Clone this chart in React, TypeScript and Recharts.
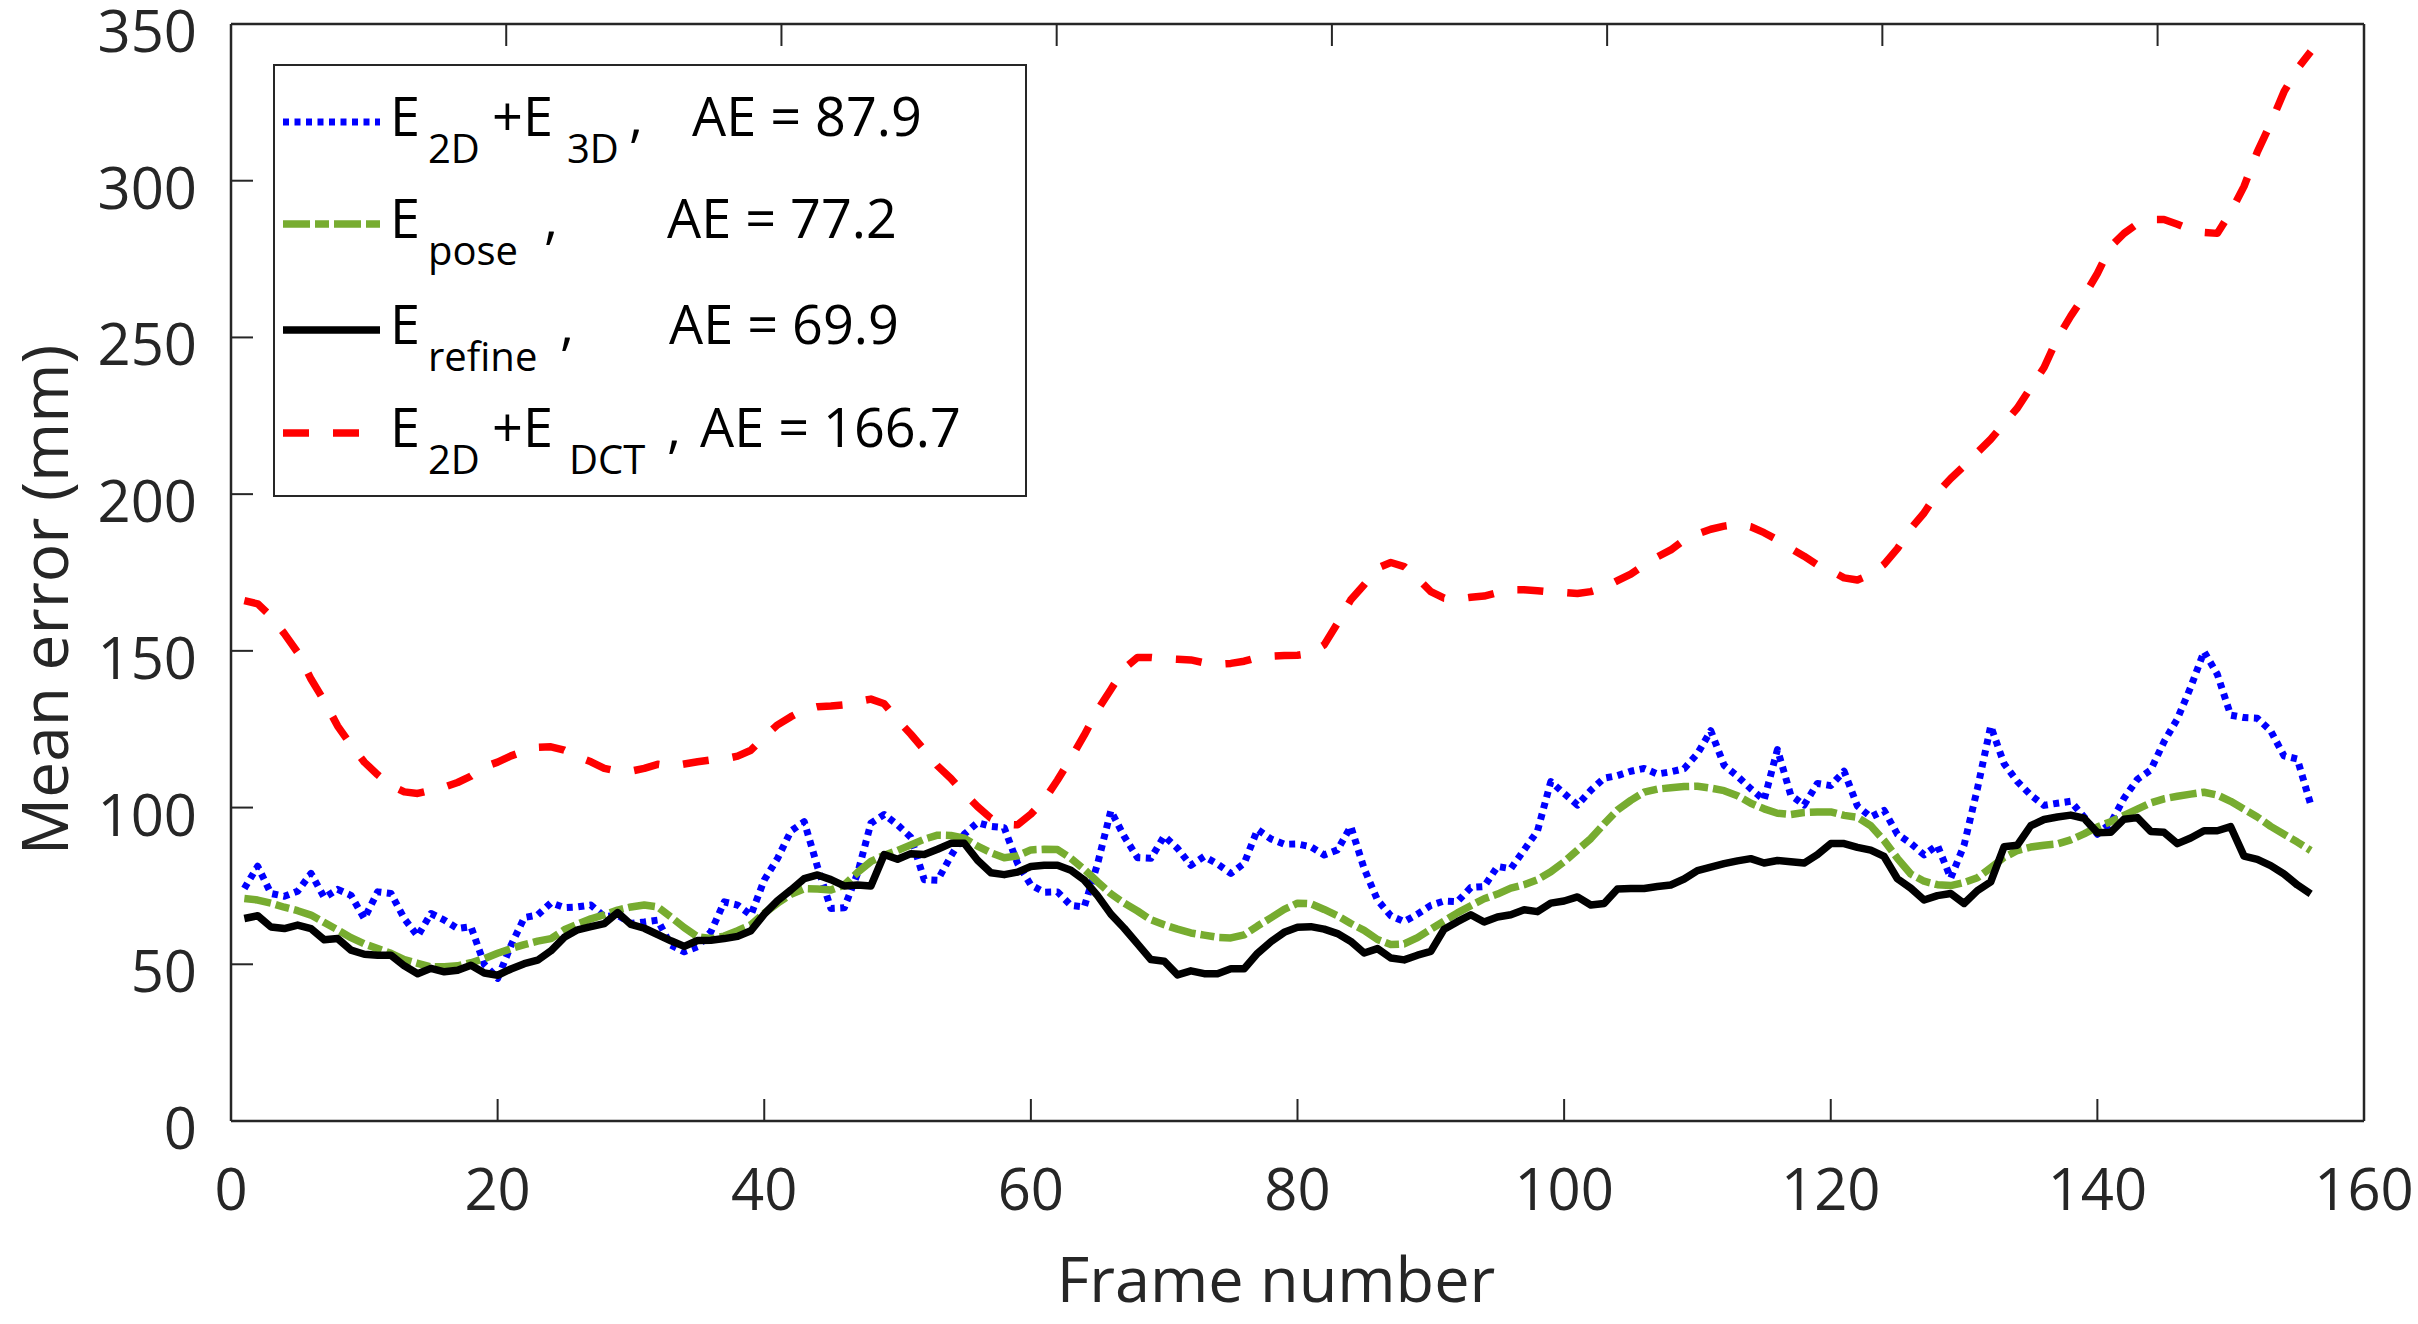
import React from 'react';
import { LineChart, Line, XAxis, YAxis, Legend, Label } from 'recharts';

// mean error per frame (mm), frames 1..156
const err2d3d = [
  74.2, 81.3, 72.6, 71.7, 73.3, 79, 71.3, 73.9, 72, 64.6, 73.1, 72.6, 64.6, 59, 66.2, 64.1, 61.4, 62, 50, 45.5,
  56, 64.9, 65.7, 69.6, 68.1, 68.3, 68.9, 65.2, 65.7, 63, 63.5, 64.1, 56.1, 54, 55.6, 60.4, 69.9, 68.9, 65.7, 76.9,
  83.8, 92.5, 95.5, 81, 67.8, 68, 79, 95, 97.8, 94.5, 90.5, 77, 76.8, 84.5, 91.5, 95.2, 94, 93.6, 82.2, 75.3,
  73, 73.1, 68.8, 68.3, 82, 99, 90.8, 84, 83.8, 90.9, 87, 81.6, 84.4, 82, 79, 82.2, 93, 90, 88.3, 88.4,
  87.5, 84.9, 86.5, 94, 80.5, 70.5, 65.5, 63.6, 66, 68.8, 70.2, 70, 74.5, 74.8, 81.2, 80.5, 86.5, 92.5, 108.3, 104.5,
  100.8, 105.5, 109.4, 110.2, 111.6, 112.5, 110.7, 111.4, 112.4, 117.2, 124.5, 113.5, 110, 106, 102.4, 118.5, 104, 100.8, 107.7, 107,
  111.6, 100.5, 97, 99.1, 91.5, 88.6, 84.9, 88, 77.5, 88, 106, 126, 114, 108.3, 104, 100.7, 101.4, 102, 97, 91.5,
  95, 103, 109, 112, 121, 128.3, 138.4, 149.8, 142.5, 129.5, 128.7, 128.5, 124.5, 116.5, 115.5, 101,
];

const errPose = [
  71, 70.5, 69.5, 68.2, 67.1, 65.7, 63.3, 61, 58.5, 56.5, 55, 53.5, 51.5, 50.3, 49.2, 49.2, 49.5, 50.5, 51.8, 53.5,
  55, 56.3, 57.4, 58.2, 61, 62.8, 64.5, 65.8, 67.3, 68.3, 68.9, 68.3, 65.1, 61.7, 58.8, 58.2, 59, 60.7, 62.6, 66.3,
  69.5, 72.3, 74.1, 74, 73.7, 75.3, 79.3, 82.8, 84.8, 86.3, 88.1, 89.9, 91.2, 91.1, 90.2, 87.7, 85.6, 84, 84.6, 86.5,
  86.7, 86.6, 83.8, 80.3, 76.3, 72.5, 69.5, 67, 64.2, 62.6, 61.2, 60, 59.3, 58.6, 58.4, 59.4, 62.2, 64.8, 67.5, 69.5,
  69.3, 67.5, 65.5, 63, 60.8, 57.9, 56.3, 56.5, 58.5, 61.2, 63.8, 66.4, 68.7, 70.9, 72.4, 74.3, 75.4, 77, 79.5, 82.7,
  86.4, 90.1, 94.8, 99.2, 102.3, 104.9, 105.9, 106.3, 106.7, 106.8, 106.2, 105.4, 103.8, 101.4, 99.6, 98.2, 97.8, 98.4, 98.6, 98.6,
  97.5, 96.9, 94.2, 89.5, 83.8, 78.8, 76.5, 75.4, 75.1, 76.1, 77.6, 80.8, 84.1, 86.3, 87.4, 88, 88.4, 89.7, 91.6, 93.8,
  95.5, 97.5, 99.5, 101.5, 102.8, 103.6, 104.3, 104.9, 104, 102, 99.5, 97, 94, 91.5, 89, 86.3,
];

const errRefine = [
  64.6, 65.5, 61.9, 61.4, 62.5, 61.4, 57.8, 58.2, 54.5, 53.2, 52.9, 52.9, 49.5, 47, 48.7, 47.6, 48.1, 49.7, 47.2, 46.5,
  48.5, 50.2, 51.3, 54.3, 58.6, 61, 62, 63, 66.5, 62.7, 61.5, 59.5, 57.5, 55.7, 57.6, 57.7, 58.2, 58.9, 60.7, 66,
  70.3, 73.7, 77.3, 78.5, 77, 75, 75.3, 75, 85, 83.5, 85.3, 85, 86.7, 88.6, 88.6, 83.2, 79.2, 78.6, 79.4, 81.2,
  81.6, 81.6, 80, 76.9, 71.9, 66, 61.5, 56.5, 51.5, 51, 46.6, 47.9, 47, 47, 48.6, 48.6, 53.5, 57.2, 60.2, 61.8,
  62, 61.2, 59.8, 57.3, 53.6, 55, 52, 51.4, 52.9, 54.1, 61.2, 63.6, 65.8, 63.5, 65.1, 65.8, 67.4, 66.8, 69.5, 70.2,
  71.5, 68.9, 69.4, 74, 74.2, 74.2, 74.8, 75.3, 77.2, 79.9, 81, 82.1, 83, 83.7, 82.3, 83.1, 82.7, 82.3, 85, 88.5,
  88.5, 87.3, 86.4, 84.4, 77.3, 74.3, 70.5, 71.9, 72.6, 69.4, 73.5, 76.3, 87.5, 88, 94.2, 96.2, 97, 97.6, 96.6, 92,
  92.1, 96.3, 96.8, 92.4, 92.1, 88.5, 90.3, 92.6, 92.6, 93.9, 84.5, 83.5, 81.5, 78.8, 75.3, 72.5,
];

const err2dDct = [
  166, 165, 161, 155.5, 149.5, 141, 134, 126, 120, 114.5, 110.5, 107, 105, 104.5, 105.5, 106.5, 108, 110, 113, 114.5,
  116.5, 118, 119.2, 119.4, 118.3, 116.2, 114.6, 112.5, 111.6, 111.6, 112.5, 113.8, 113.2, 113.9, 114.6, 115.2, 115.5, 116.4, 118.3, 122.6,
  126.4, 129, 131.2, 132.2, 132.4, 132.8, 133.8, 134.6, 133.1, 128, 123.4, 118.4, 113.3, 109.3, 104.6, 100.3, 96.6, 94.7, 94.5, 97.9,
  102.4, 108.8, 115.7, 123.1, 131.1, 137.7, 144.4, 147.9, 147.9, 147.5, 147.3, 147.1, 146.2, 145.7, 146, 146.7, 147.9, 148.3, 148.5, 148.6,
  149.2, 151.9, 158.8, 166.3, 171.1, 176.4, 178.2, 176.9, 173.2, 168.9, 166.8, 166.5, 167.1, 167.5, 168.6, 169.5, 169.5, 169.2, 168.8, 168.6,
  168.3, 168.9, 170.2, 172.4, 174.5, 177.4, 180, 182.2, 185.4, 187.3, 188.8, 189.8, 190.4, 189.6, 187.7, 185.4, 182.7, 180.2, 177.4, 175.6,
  173.3, 172.6, 174.4, 177.6, 182.6, 189, 194, 200.4, 205, 209, 213.3, 217.5, 222.5, 227.5, 234, 240.4, 249.7, 256.8, 263.2, 270.4,
  279, 283.2, 286.3, 287.6, 287.6, 286.1, 284.4, 283.5, 283.2, 290, 298.2, 309.2, 318.3, 328.4, 335.7, 341.2,
];

const xTicks = [0, 20, 40, 60, 80, 100, 120, 140, 160];
const yTicks = [0, 50, 100, 150, 200, 250, 300, 350];

const data = err2d3d.map((v, i) => ({
  frame: i + 1,
  e2d3d: v,
  epose: errPose[i],
  erefine: errRefine[i],
  e2ddct: err2dDct[i],
}));

const FONT = '"Open Sans", "Noto Sans", sans-serif';
const AXIS = '#262626';

// layout of the figure
const W = 2418;
const H = 1324;
const PLOT_LEFT = 231;
const PLOT_RIGHT = 2364;
const PLOT_TOP = 24;
const PLOT_BOTTOM = 1121;

const series = [
  {
    key: 'e2d3d', color: '#0000ff', dash: '6 5.5', width: 7,
    parts: [
      { t: 'E', x: 117 }, { t: '2D', x: 155, sub: true }, { t: '+E', x: 219 },
      { t: '3D', x: 294, sub: true }, { t: ',', x: 356 }, { t: 'AE = 87.9', x: 419 },
    ],
  },
  {
    key: 'epose', color: '#77ac30', dash: '27 5 14 5', width: 7.5,
    parts: [
      { t: 'E', x: 117 }, { t: 'pose', x: 155, sub: true }, { t: ',', x: 271 }, { t: 'AE = 77.2', x: 394 },
    ],
  },
  {
    key: 'erefine', color: '#000000', dash: undefined, width: 7.5,
    parts: [
      { t: 'E', x: 117 }, { t: 'refine', x: 155, sub: true }, { t: ',', x: 287 }, { t: 'AE = 69.9', x: 396 },
    ],
  },
  {
    key: 'e2ddct', color: '#ff0000', dash: '26 24', width: 7.5,
    parts: [
      { t: 'E', x: 117 }, { t: '2D', x: 155, sub: true }, { t: '+E', x: 219 },
      { t: 'DCT', x: 296, sub: true }, { t: ',', x: 394 }, { t: 'AE = 166.7', x: 427 },
    ],
  },
];

const LEG_W = 752;
const LEG_H = 431;
const rowBase = [72, 174, 280, 383];

function LegendBox() {
  return (
    <svg width={LEG_W + 4} height={LEG_H + 4} style={{ display: 'block' }}>
      <rect x={1} y={1} width={LEG_W} height={LEG_H} fill="#fff" stroke={AXIS} strokeWidth={2} />
      {series.map((s, r) => (
        <g key={s.key}>
          <line
            x1={10} x2={107} y1={rowBase[r] - 14} y2={rowBase[r] - 14}
            stroke={s.color} strokeWidth={s.width} strokeDasharray={s.dash}
          />
          {s.parts.map((p, j) => (
            <text
              key={j}
              x={p.x}
              y={rowBase[r] + (p.sub ? 27 : 0)}
              fontSize={p.sub ? 40 : 54}
              fontFamily={FONT}
              fill="#000"
            >
              {p.t}
            </text>
          ))}
        </g>
      ))}
    </svg>
  );
}

const YTick = (props: any) => (
  <text x={PLOT_LEFT - 34} y={props.y + 28} textAnchor="end" fontSize={58} fontFamily={FONT} fill={AXIS}>
    {props.payload.value}
  </text>
);

const XTick = (props: any) => (
  <text x={props.x} y={PLOT_BOTTOM + 89} textAnchor="middle" fontSize={58} fontFamily={FONT} fill={AXIS}>
    {props.payload.value}
  </text>
);

const NoTick = () => null;

const renderYLabel = () => (
  <text x={68} y={600} transform="rotate(-90 68 600)" textAnchor="middle" fontSize={64} fontFamily={FONT} fill={AXIS}>
    Mean error (mm)
  </text>
);

const renderXLabel = () => (
  <text x={1276} y={1302} textAnchor="middle" fontSize={63} fontFamily={FONT} fill={AXIS}>
    Frame number
  </text>
);

export default function App() {
  const axisLine = { stroke: AXIS, strokeWidth: 2.5 };
  const tickLine = { stroke: AXIS, strokeWidth: 2 };
  return (
    <div style={{ position: 'absolute', left: 0, top: 0, width: W, height: H, background: '#fff' }}>
      <LineChart width={W} height={H} data={data} margin={{ top: 0, right: 0, bottom: 0, left: 0 }}>
        <XAxis
          dataKey="frame" type="number" domain={[0, 160]} ticks={xTicks}
          height={H - PLOT_BOTTOM} tickSize={-22} tickMargin={30}
          axisLine={axisLine} tickLine={tickLine} tick={XTick}
        >
          <Label content={renderXLabel} />
        </XAxis>
        <XAxis
          xAxisId="top" orientation="top" type="number" domain={[0, 160]} ticks={xTicks}
          height={PLOT_TOP} tickSize={-22} axisLine={axisLine} tickLine={tickLine} tick={NoTick}
        />
        <YAxis
          type="number" domain={[0, 350]} ticks={yTicks}
          width={PLOT_LEFT} tickSize={-22} tickMargin={56}
          axisLine={axisLine} tickLine={tickLine} tick={YTick}
        >
          <Label content={renderYLabel} />
        </YAxis>
        <YAxis
          yAxisId="right" orientation="right" type="number" domain={[0, 350]} ticks={yTicks}
          width={W - PLOT_RIGHT} tickSize={-22} axisLine={axisLine} tickLine={tickLine} tick={NoTick}
        />
        {series.map((s) => (
          <Line
            key={s.key}
            dataKey={s.key}
            type="linear"
            stroke={s.color}
            strokeWidth={s.width}
            strokeDasharray={s.dash}
            strokeLinejoin="round"
            dot={false}
            activeDot={false}
            isAnimationActive={false}
          />
        ))}
        <Legend
          layout="vertical"
          align="center"
          verticalAlign="middle"
          content={LegendBox}
          wrapperStyle={{ left: 273, top: 64, right: 'auto', bottom: 'auto', width: LEG_W + 4, height: LEG_H + 4 }}
        />
      </LineChart>
    </div>
  );
}
